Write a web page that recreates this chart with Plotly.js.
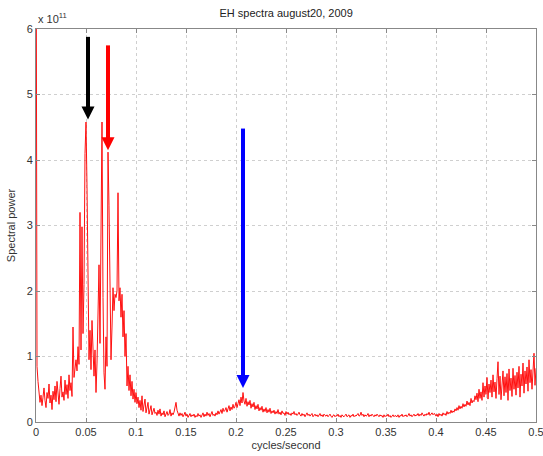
<!DOCTYPE html>
<html>
<head>
<meta charset="utf-8">
<script src="https://cdn.plot.ly/plotly-3.0.1.min.js"></script>
<style>
  html, body { margin: 0; padding: 0; background: #fff; }
  #chart { width: 543px; height: 456px; }
</style>
</head>
<body>
<div id="chart"></div>
<script>
// Power spectrum of the EH record (units of 1e11), one value per 0.001 cycles/second bin,
// starting with the DC bin at 0 (off-scale).
const binWidth = 0.001;
const power = [
  9.00, 0.85, 0.62, 0.48, 0.30, 0.41, 0.25, 0.38, 0.52, 0.33, 0.22, 0.45, 0.36, 0.58, 0.29, 0.41, 0.19, 0.47, 0.34, 0.55,
  0.31, 0.62, 0.40, 0.27, 0.51, 0.70, 0.38, 0.46, 0.33, 0.64, 0.42, 0.57, 0.36, 0.72, 0.48, 0.60, 0.39, 1.45, 0.68, 0.82,
  0.95, 0.78, 1.15, 0.88, 3.20, 1.10, 2.98, 1.35, 2.10, 4.10, 4.58, 3.60, 1.65, 0.95, 1.40, 0.80, 1.55, 1.20, 0.70, 1.10,
  0.45, 0.90, 1.60, 2.40, 1.20, 3.16, 4.58, 1.90, 0.75, 0.50, 1.30, 0.85, 4.12, 3.30, 1.60, 0.95, 1.45, 2.05, 1.70, 1.95,
  1.90, 2.00, 3.50, 1.85, 2.05, 1.60, 1.95, 1.30, 1.70, 1.00, 1.35, 0.55, 0.85, 0.48, 0.72, 0.40, 0.62, 0.35, 0.50, 0.30,
  0.45, 0.28, 0.38, 0.22, 0.33, 0.18, 0.40, 0.16, 0.26, 0.35, 0.14, 0.22, 0.30, 0.12, 0.19, 0.25, 0.11, 0.17, 0.21, 0.13,
  0.15, 0.10, 0.18, 0.12, 0.20, 0.09, 0.14, 0.11, 0.17, 0.08, 0.13, 0.16, 0.10, 0.12, 0.19, 0.09, 0.14, 0.11, 0.15, 0.24,
  0.30, 0.18, 0.12, 0.09, 0.14, 0.10, 0.13, 0.08, 0.11, 0.15, 0.09, 0.12, 0.07, 0.10, 0.13, 0.08, 0.11, 0.09, 0.12, 0.07,
  0.10, 0.08, 0.13, 0.09, 0.11, 0.07, 0.10, 0.14, 0.08, 0.12, 0.09, 0.15, 0.10, 0.13, 0.08, 0.11, 0.16, 0.10, 0.12, 0.09,
  0.14, 0.11, 0.17, 0.12, 0.15, 0.19, 0.13, 0.21, 0.16, 0.18, 0.22, 0.15, 0.20, 0.25, 0.17, 0.23, 0.19, 0.27, 0.21, 0.24,
  0.30, 0.22, 0.28, 0.34, 0.25, 0.38, 0.29, 0.45, 0.32, 0.27, 0.36, 0.24, 0.31, 0.26, 0.33, 0.21, 0.28, 0.23, 0.30, 0.19,
  0.25, 0.20, 0.27, 0.17, 0.22, 0.18, 0.24, 0.15, 0.20, 0.16, 0.22, 0.14, 0.19, 0.15, 0.21, 0.13, 0.17, 0.14, 0.18, 0.12,
  0.16, 0.13, 0.19, 0.12, 0.15, 0.11, 0.17, 0.13, 0.14, 0.10, 0.16, 0.12, 0.15, 0.11, 0.13, 0.10, 0.14, 0.12, 0.16, 0.11,
  0.13, 0.10, 0.12, 0.15, 0.11, 0.09, 0.13, 0.10, 0.12, 0.08, 0.11, 0.14, 0.10, 0.12, 0.09, 0.11, 0.13, 0.08, 0.10, 0.12,
  0.09, 0.11, 0.08, 0.10, 0.13, 0.09, 0.11, 0.08, 0.12, 0.10, 0.09, 0.11, 0.08, 0.10, 0.12, 0.09, 0.07, 0.10, 0.11, 0.08,
  0.10, 0.09, 0.12, 0.08, 0.10, 0.07, 0.11, 0.09, 0.08, 0.10, 0.12, 0.08, 0.09, 0.11, 0.07, 0.10, 0.09, 0.12, 0.08, 0.10,
  0.09, 0.11, 0.13, 0.09, 0.10, 0.15, 0.10, 0.12, 0.08, 0.11, 0.09, 0.10, 0.13, 0.08, 0.11, 0.09, 0.12, 0.10, 0.08, 0.11,
  0.09, 0.12, 0.10, 0.08, 0.11, 0.09, 0.10, 0.07, 0.11, 0.08, 0.10, 0.09, 0.12, 0.08, 0.10, 0.07, 0.09, 0.11, 0.08, 0.10,
  0.09, 0.08, 0.11, 0.07, 0.10, 0.09, 0.12, 0.08, 0.10, 0.09, 0.11, 0.08, 0.10, 0.13, 0.09, 0.11, 0.08, 0.10, 0.12, 0.09,
  0.11, 0.10, 0.13, 0.09, 0.12, 0.10, 0.14, 0.11, 0.09, 0.12, 0.10, 0.13, 0.11, 0.15, 0.10, 0.12, 0.14, 0.11, 0.13, 0.12,
  0.09, 0.12, 0.08, 0.13, 0.10, 0.12, 0.09, 0.14, 0.11, 0.13, 0.10, 0.16, 0.12, 0.15, 0.13, 0.18, 0.14, 0.17, 0.15, 0.20,
  0.17, 0.22, 0.18, 0.25, 0.20, 0.24, 0.21, 0.28, 0.23, 0.27, 0.24, 0.32, 0.26, 0.30, 0.25, 0.36, 0.29, 0.33, 0.31, 0.40,
  0.34, 0.44, 0.31, 0.50, 0.36, 0.46, 0.33, 0.60, 0.38, 0.55, 0.42, 0.68, 0.35, 0.58, 0.45, 0.64, 0.38, 0.72, 0.46, 0.61,
  0.36, 0.66, 0.92, 0.42, 0.70, 0.34, 0.63, 0.78, 0.40, 0.69, 0.45, 0.74, 0.33, 0.81, 0.48, 0.67, 0.39, 0.82, 0.50, 0.71,
  0.41, 0.76, 0.52, 0.85, 0.38, 0.73, 0.55, 0.90, 0.44, 0.78, 0.58, 0.84, 0.47, 0.95, 0.60, 0.80, 0.50, 0.88, 1.05, 0.56,
  0.82
];
const freq = power.map((_, i) => i * binWidth);

// Marker arrows: frequency, tail height and tip height (units of 1e11)
const arrowColors = ['#000000', '#ff0000', '#0000ff'];
const arrowFreq   = [0.052, 0.072, 0.207];
const arrowTail   = [5.88, 5.75, 4.48];
const arrowTip    = [4.62, 4.15, 0.52];

const xTicks = [0, 0.05, 0.1, 0.15, 0.2, 0.25, 0.3, 0.35, 0.4, 0.45, 0.5];
const yTicks = [0, 1, 2, 3, 4, 5, 6];

const fontFamily = 'Liberation Sans, Arial, sans-serif';
const axisFont = { family: fontFamily, size: 11, color: '#333333' };

const spectrum = {
  x: freq,
  y: power,
  type: 'scatter',
  mode: 'lines',
  line: { color: '#ff1010', width: 1 },
  hoverinfo: 'skip'
};

// Each arrow: a thick shaft running into an arrow-down head whose point sits on the tip value.
const arrowTraces = [];
arrowFreq.forEach((f, i) => {
  arrowTraces.push({
    x: [f, f], y: [arrowTail[i], arrowTip[i] + 0.1],
    type: 'scatter', mode: 'lines',
    line: { color: arrowColors[i], width: 4 },
    hoverinfo: 'skip', cliponaxis: false
  });
  arrowTraces.push({
    x: [f], y: [arrowTip[i]],
    type: 'scatter', mode: 'markers',
    marker: { symbol: 'arrow-down', size: 13, color: arrowColors[i], line: { width: 0 } },
    hoverinfo: 'skip', cliponaxis: false
  });
});

const gridStyle = { showgrid: true, gridcolor: '#cfcfcf', griddash: 'dot', gridwidth: 1 };

const layout = {
  width: 543, height: 456,
  margin: { l: 36, r: 7, t: 29, b: 34 },
  paper_bgcolor: '#ffffff', plot_bgcolor: '#ffffff',
  showlegend: false,
  title: {
    text: 'EH spectra august20, 2009',
    font: { family: fontFamily, size: 11, color: '#222222' },
    x: 0.527, xanchor: 'center', y: 0.972, yanchor: 'middle'
  },
  xaxis: Object.assign({
    range: [0, 0.5], tickvals: xTicks, ticktext: xTicks.map(String),
    ticks: 'inside', ticklen: 4, tickcolor: '#888888',
    showline: true, linecolor: '#888888', linewidth: 1, mirror: 'allticks',
    zeroline: false, tickfont: axisFont, ticklabeloverflow: 'allow',
    title: { text: 'cycles/second', font: axisFont, standoff: 4 }
  }, gridStyle),
  yaxis: Object.assign({
    range: [0, 6], tickvals: yTicks, ticktext: yTicks.map(String),
    ticks: 'inside', ticklen: 4, tickcolor: '#888888',
    showline: true, linecolor: '#888888', linewidth: 1, mirror: 'allticks',
    zeroline: false, tickfont: axisFont, ticklabeloverflow: 'allow',
    title: { text: 'Spectral power', font: axisFont, standoff: 8 }
  }, gridStyle),
  annotations: [{
    text: 'x 10<sup>11</sup>',
    xref: 'paper', yref: 'paper', x: 0, y: 1, xanchor: 'left', yanchor: 'bottom',
    yshift: 2, showarrow: false,
    font: { family: fontFamily, size: 11, color: '#333333' }
  }]
};

Plotly.newPlot('chart', [spectrum].concat(arrowTraces), layout, { staticPlot: true, displayModeBar: false });
</script>
</body>
</html>
